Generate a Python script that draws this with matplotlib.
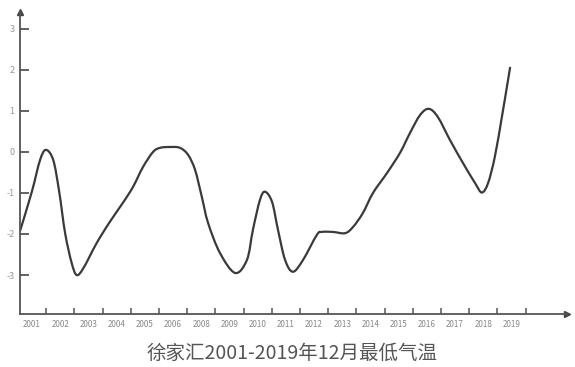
# 徐家汇 12月最低气温 曲线图
import matplotlib
matplotlib.use("Agg")
import matplotlib.pyplot as plt
from matplotlib.path import Path
from matplotlib.patches import PathPatch

plt.rcParams['font.family'] = ['Noto Sans CJK SC', 'DejaVu Sans']

# 年份标签 (原图缺 2007)
years = ['2001', '2002', '2003', '2004', '2005', '2006', '2008', '2009', '2010',
         '2011', '2012', '2013', '2014', '2015', '2016', '2017', '2018', '2019']
y_ticks = [3, 2, 1, 0, -1, -2, -3]

# 曲线上读出的点 (x 为刻度序号, 1 = 第一个刻度)
curve_x = [0.07, 0.49, 0.78, 0.99, 1.25, 1.46, 1.67, 1.90, 2.08, 2.32, 2.79,
           3.26, 3.72, 4.08, 4.43, 4.79, 5.04, 5.39, 5.74, 6.03, 6.28, 6.52,
           6.74, 7.16, 7.70, 8.12, 8.33, 8.58, 8.76, 9.01, 9.22, 9.47, 9.75,
           10.11, 10.60, 10.78, 11.17, 11.60, 11.88, 12.23, 12.59, 13.09,
           13.55, 13.90, 14.26, 14.57, 14.89, 15.32, 15.78, 16.21, 16.45,
           16.67, 16.91, 17.16, 17.34, 17.45]
curve_y = [-1.93, -0.97, -0.20, 0.05, -0.20, -0.97, -1.98, -2.70, -3.00, -2.83,
           -2.22, -1.70, -1.24, -0.85, -0.37, 0.00, 0.10, 0.12, 0.10, -0.07,
           -0.44, -1.10, -1.73, -2.46, -2.95, -2.63, -1.90, -1.17, -0.97,
           -1.22, -1.90, -2.63, -2.92, -2.63, -2.02, -1.95, -1.95, -1.98,
           -1.83, -1.49, -1.00, -0.51, -0.02, 0.46, 0.90, 1.05, 0.85, 0.29,
           -0.27, -0.76, -0.99, -0.76, -0.12, 0.85, 1.59, 2.05]


# 平滑曲线: 用 Catmull-Rom 转三次贝塞尔, 由 Path 绘制
def smooth_path(xs, ys):
    pts = list(zip(xs, ys))
    verts = [pts[0]]
    codes = [Path.MOVETO]
    n = len(pts)
    for i in range(n - 1):
        p0 = pts[i - 1] if i > 0 else pts[i]
        p1 = pts[i]
        p2 = pts[i + 1]
        p3 = pts[i + 2] if i + 2 < n else pts[i + 1]
        c1 = (p1[0] + (p2[0] - p0[0]) / 6, p1[1] + (p2[1] - p0[1]) / 6)
        c2 = (p2[0] - (p3[0] - p1[0]) / 6, p2[1] - (p3[1] - p1[1]) / 6)
        verts += [c1, c2, p2]
        codes += [Path.CURVE4] * 3
    return Path(verts, codes)


fig = plt.figure(figsize=(5.75, 3.67), dpi=100)
ax = fig.add_axes([20 / 575, 1 - 314 / 367, 547 / 575, 302 / 367])

ax.add_patch(PathPatch(smooth_path(curve_x, curve_y), facecolor='none',
                       edgecolor='#3a3a3a', lw=1.6, capstyle='round',
                       joinstyle='round'))

ax.set_xlim(0.07, 19.47)
ax.set_ylim(-3.95, 3.41)

for s in ['top', 'right']:
    ax.spines[s].set_visible(False)
for s in ['left', 'bottom']:
    ax.spines[s].set_color('#555555')
    ax.spines[s].set_linewidth(1.3)

# 箭头
ax.plot(1, 0, '>', color='#444444', ms=5, transform=ax.transAxes, clip_on=False)
ax.plot(0, 1, '^', color='#444444', ms=5, transform=ax.transAxes, clip_on=False)

ax.set_yticks(y_ticks)
ax.set_yticklabels([str(v) for v in y_ticks])
ax.tick_params(axis='y', direction='in', length=6.5, width=1.3, color='#555555',
               labelsize=6.5, labelcolor='#999999', pad=4)

ax.set_xticks(range(1, 19))
ax.set_xticklabels([])
ax.set_xticks([k - 0.5 for k in range(1, 19)], minor=True)
ax.set_xticklabels(years, minor=True)
ax.tick_params(axis='x', which='major', direction='in', length=4.5, width=1.1,
               color='#555555')
ax.tick_params(axis='x', which='minor', length=0, labelsize=5.8,
               labelcolor='#888888', pad=4)

fig.text(292 / 575, 1 - 353 / 367, '徐家汇2001-2019年12月最低气温',
         ha='center', va='center', fontsize=14, color='#555555')

fig.savefig('out.png', dpi=100)
